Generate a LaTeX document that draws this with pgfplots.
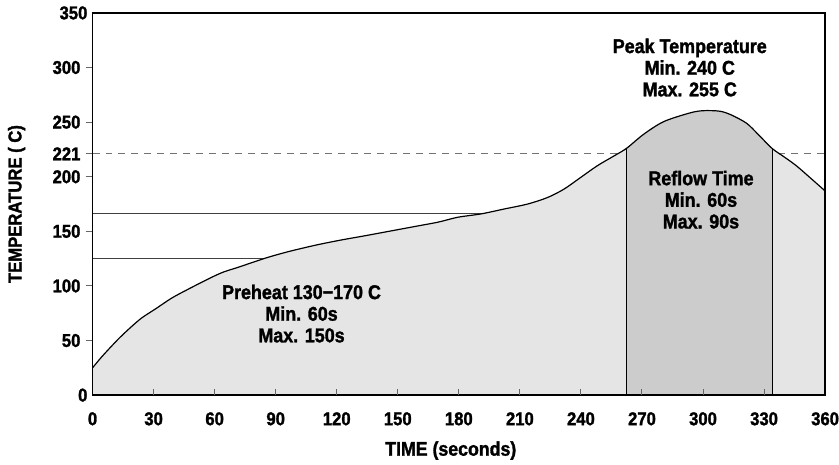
\documentclass[border=0pt]{standalone}
\usepackage{fontspec}
\setmainfont{Liberation Sans Bold}[FakeStretch=0.9, FakeBold=1.5]
\usepackage{pgfplots}
\usepackage{pgfplotstable}
\pgfplotsset{compat=1.18}
\definecolor{lightfill}{RGB}{229,229,229}
\definecolor{darkfill}{RGB}{204,204,204}
\pgfplotstableread{
x y
0 25
4 34
8.3 42.8
13 52
18.1 61
24 70.5
31.2 79.3
39 89
47.5 97.5
57.2 106.7
64 112.5
71.9 117.3
85 125.5
96.4 131.5
110 137.5
122 142
134 146
147 150.5
160 155
170 158.5
179.5 162.9
191 166
202.4 170.5
213.8 175
223.6 181
231.7 188.7
239.9 199.4
248 210
256.2 219
262.4 226
270.9 239
280.7 250.5
293.7 258.5
300.2 260.5
308.3 260
314 256.5
321.4 249
327 239
333.9 226
340 218
345.9 210
353 198.5
360 187
}\curve
\begin{document}
\begin{tikzpicture}
\begin{axis}[
  width=736pt, height=384pt, scale only axis,
  xmin=0, xmax=360, ymin=0, ymax=350,
  xtick=\empty,
  ytick={50,100,150,200,221,250,300},
  extra y ticks={0,350},
  extra y tick style={major tick length=0pt},
  tick align=outside,
  ytick pos=left,
  major tick length=7pt,
  tick style={line width=1pt, color=black!60},
  axis line style={line width=1.6pt},
  axis on top=true,
  /pgf/number format/assume math mode=true,
  tick label style={font=\fontsize{18.6}{20}\selectfont, inner sep=0pt},
  yticklabel style={xshift=-5pt},
  xlabel={TIME (seconds)},
  ylabel={TEMPERATURE ( C)},
  xlabel style={at={(axis description cs:0.489,-0.145)}, anchor=center, font=\fontsize{19.8}{21}\selectfont},
  ylabel style={at={(axis description cs:-0.1037,0.5)}, anchor=center, font=\fontsize{18.6}{20}\selectfont},
]
\addplot[black!55, line width=1pt, dash pattern=on 7pt off 6pt] coordinates {(0,221) (360,221)};
\addplot[black!75, line width=0.8pt] coordinates {(0,125.5) (200,125.5)};
\addplot[black!75, line width=0.8pt] coordinates {(0,166) (200,166)};
\addplot[draw=none, fill=lightfill, smooth, tension=0.5] table[x=x,y=y] {\curve} \closedcycle;
\addplot[draw=none, fill=darkfill, smooth, tension=0.5, restrict x to domain=262.4:333.9] table[x=x,y=y] {\curve} \closedcycle;
\addplot[black, line width=1pt] coordinates {(262.4,0) (262.4,226)};
\addplot[black, line width=1pt] coordinates {(333.9,0) (333.9,226)};
\addplot[black, line width=1.2pt, smooth, tension=0.5] table[x=x,y=y] {\curve};
\node[align=center, font=\fontsize{20}{21.7}\selectfont] at (axis cs:293.5,300) {Peak Temperature\\Min. 240 C\\Max. 255 C};
\node[align=center, font=\fontsize{20}{21.7}\selectfont] at (axis cs:299,179) {Reflow Time\\Min. 60s\\Max. 90s};
\node[align=center, font=\fontsize{20}{21.7}\selectfont] at (axis cs:102.7,74.7) {Preheat 130−170 C\\Min. 60s\\Max. 150s};
\end{axis}
\begin{axis}[
  width=736pt, height=384pt, scale only axis,
  xmin=0, xmax=360, ymin=0, ymax=350,
  xtick={30,60,...,330},
  extra x ticks={0,360},
  extra x tick style={major tick length=0pt},
  ytick=\empty,
  hide y axis,
  axis line style={draw=none},
  tick align=inside,
  xtick pos=bottom,
  major tick length=6pt,
  tick style={line width=1pt, color=black!60},
  /pgf/number format/assume math mode=true,
  tick label style={font=\fontsize{18.6}{20}\selectfont, inner sep=0pt},
  xticklabel style={yshift=-17pt},
]
\end{axis}
\path (current axis.south west) ++(-93pt,-70pt) rectangle ++(839pt,467pt);
\end{tikzpicture}
\end{document}
